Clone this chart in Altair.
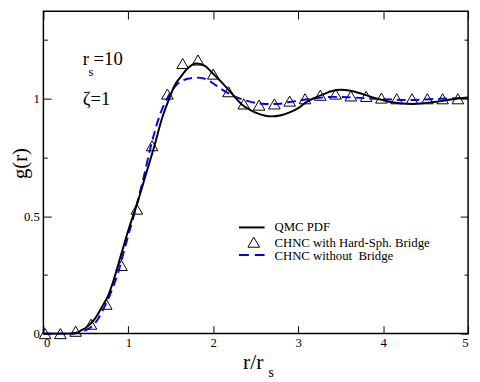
import altair as alt
import pandas as pd

# ---- data ----
qmc_r = [0.0, 0.3, 0.4, 0.45, 0.5, 0.61, 0.7, 0.76, 0.82, 0.91, 1.0, 1.11, 1.2, 1.3, 1.4,
         1.47, 1.55, 1.61, 1.7, 1.8, 1.9, 1.99, 2.1, 2.2, 2.34, 2.45, 2.53, 2.68, 2.8,
         2.92, 3.0, 3.1, 3.2, 3.3, 3.4, 3.5, 3.6, 3.76, 3.9, 3.99, 4.1, 4.22, 4.35, 4.45,
         4.57, 4.68, 4.8, 5.0]
qmc_g = [0.0, 0.0, 0.005, 0.015, 0.025, 0.065, 0.12, 0.16, 0.22, 0.33, 0.44, 0.56, 0.67,
         0.79, 0.92, 0.99, 1.06, 1.09, 1.13, 1.15, 1.14, 1.11, 1.07, 1.03, 0.975, 0.95,
         0.937, 0.925, 0.93, 0.945, 0.96, 0.987, 1.005, 1.02, 1.033, 1.038, 1.035, 1.02,
         1.003, 0.995, 0.985, 0.98, 0.978, 0.98, 0.985, 0.99, 0.997, 1.005]

nob_r = [0.0, 0.35, 0.45, 0.55, 0.61, 0.7, 0.8, 0.88, 0.97, 1.07, 1.17, 1.26, 1.37, 1.47,
         1.57, 1.7, 1.8, 1.9, 2.0, 2.1, 2.22, 2.41, 2.61, 2.75, 2.92, 3.15, 3.41, 3.61,
         3.91, 4.3, 4.68, 5.0]
nob_g = [0.0, 0.0, 0.008, 0.025, 0.045, 0.1, 0.18, 0.26, 0.38, 0.51, 0.65, 0.79, 0.93,
         1.01, 1.06, 1.085, 1.09, 1.085, 1.065, 1.04, 1.015, 0.99, 0.978, 0.978, 0.987,
         1.0, 1.008, 1.006, 1.0, 0.995, 1.0, 1.004]

hs_r = [0.02, 0.2, 0.38, 0.56, 0.74, 0.92, 1.1, 1.28, 1.46, 1.64, 1.82, 2.0, 2.18, 2.36,
        2.54, 2.72, 2.9, 3.08, 3.26, 3.44, 3.62, 3.8, 3.98, 4.16, 4.34, 4.52, 4.7, 4.88]
hs_g = [0.0, 0.0, 0.01, 0.04, 0.125, 0.29, 0.53, 0.80, 1.02, 1.15, 1.165, 1.105, 1.03,
        0.978, 0.973, 0.978, 0.99, 1.0, 1.015, 1.02, 1.012, 1.01, 1.003, 1.0, 1.0, 1.0,
        1.0, 1.0]

x_ticks = [0, 1, 2, 3, 4, 5]
y_major = [0, 0.5, 1]
y_minor = [0.25, 0.75, 1.25]

legend_labels = ["QMC PDF", "CHNC with Hard-Sph. Bridge", "CHNC without\u00a0 Bridge"]

FONT = "Liberation Serif"
W, H = 432, 328

qmc = pd.DataFrame({"r": qmc_r, "g": qmc_g})
nob = pd.DataFrame({"r": nob_r, "g": nob_g})
hs = pd.DataFrame({"r": hs_r, "g": hs_g})

xs = alt.Scale(domain=[0, 5], nice=False, zero=False)
ys = alt.Scale(domain=[0, 1.373], nice=False, zero=False)


def ax(orient, values, size, labels=False):
    kw = dict(orient=orient, values=values, tickSize=size, offset=-size, domain=False,
              grid=False, labels=labels, title=None, ticks=True, tickColor="black",
              tickWidth=1)
    if labels:
        kw.update(labelFont=FONT, labelFontSize=13, labelColor="black",
                  labelPadding=4 if orient == "left" else 3, format="~g")
    return alt.Axis(**kw)


pts = alt.Chart(hs).mark_point(shape="triangle-up", size=140, filled=False,
                                color="black", strokeWidth=1, opacity=1).encode(
    x=alt.X("r:Q", scale=xs, axis=ax("bottom", x_ticks, 8, True)),
    y=alt.Y("g:Q", scale=ys, axis=ax("left", y_major, 8, True)),
)

blue = alt.Chart(nob).mark_line(color="#0000ff", strokeWidth=2, strokeDash=[9, 5],
                                interpolate="monotone").encode(
    x=alt.X("r:Q", scale=xs, axis=None),
    y=alt.Y("g:Q", scale=ys, axis=ax("left", y_minor, 4)),
)

black = alt.Chart(qmc).mark_line(color="black", strokeWidth=2,
                                 interpolate="monotone").encode(
    x=alt.X("r:Q", scale=xs, axis=ax("top", x_ticks, 8)),
    y=alt.Y("g:Q", scale=ys, axis=ax("right", y_major, 8)),
)

ghost = alt.Chart(hs).mark_point(opacity=0).encode(
    x=alt.X("r:Q", scale=xs, axis=None),
    y=alt.Y("g:Q", scale=ys, axis=ax("right", y_minor, 4)),
)


def txt(s, x, y, size, **kw):
    return alt.Chart(pd.DataFrame({"t": [s]})).mark_text(
        align="left", baseline="alphabetic", font=FONT, fontSize=size,
        color="black", **kw).encode(x=alt.value(x), y=alt.value(y), text="t:N")


one = pd.DataFrame({"a": [0]})

annots = [
    txt("r", 40, 55, 19),
    txt("s", 46, 66, 13),
    txt("=10", 51, 55, 19),
    txt("\u03b6=1", 40, 95, 19),
    txt("r/r", 203, 364, 22),
    txt("s", 229, 372, 14),
    alt.Chart(pd.DataFrame({"t": ["g(r)"]})).mark_text(
        align="center", baseline="middle", font=FONT, fontSize=21, color="black",
        angle=270).encode(x=alt.value(-23), y=alt.value(155), text="t:N"),
    # legend
    alt.Chart(one).mark_rule(color="black", strokeWidth=2).encode(
        x=alt.value(199), x2=alt.value(225), y=alt.value(220)),
    alt.Chart(one).mark_point(shape="triangle-up", size=140, filled=False,
                              color="black", strokeWidth=1, opacity=1).encode(
        x=alt.value(214), y=alt.value(235)),
    alt.Chart(one).mark_rule(color="#0000ff", strokeWidth=2, strokeDash=[10, 6]).encode(
        x=alt.value(199), x2=alt.value(225), y=alt.value(248)),
    txt(legend_labels[0], 235, 224, 13),
    txt(legend_labels[1], 235, 240, 13),
    txt(legend_labels[2], 235, 253, 13),
]

chart = alt.layer(pts, blue, black, ghost, *annots).resolve_axis(
    x="independent", y="independent"
).properties(
    width=W, height=H, autosize="none",
    padding={"left": 36, "top": 0, "right": 4, "bottom": 46},
).configure_view(stroke="black", strokeWidth=1.5)

chart.save("out.html", embed_options={"renderer": "svg", "actions": False})
